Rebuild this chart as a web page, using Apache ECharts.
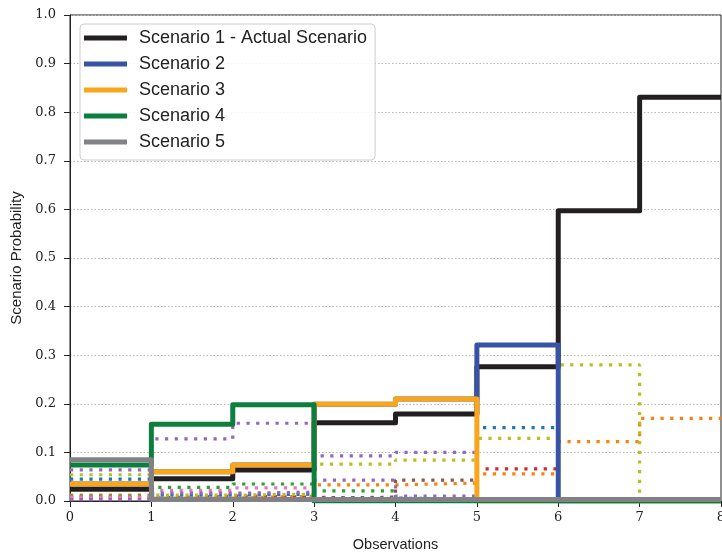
<!DOCTYPE html>
<html>
<head>
<meta charset="utf-8">
<script src="https://cdn.jsdelivr.net/npm/echarts@6/dist/echarts.min.js"></script>
<style>
html,body{margin:0;padding:0;background:#fff;}
#chart{width:722px;height:555px;}
</style>
</head>
<body>
<div id="chart"></div>
<script>
// Observation steps (x positions of the step edges)
const observations = [0, 1, 2, 3, 4, 5, 6, 7, 8];
const yTicks = [0.0, 0.1, 0.2, 0.3, 0.4, 0.5, 0.6, 0.7, 0.8, 0.9, 1.0];

// Solid (highlighted) scenarios: value held over each interval [i, i+1]
const scenario1 = [0.024, 0.046, 0.064, 0.161, 0.179, 0.276, 0.597, 0.831];
const scenario2 = [0.035, 0.060, 0.074, 0.199, 0.210, 0.321, 0.0, 0.0];
const scenario3 = [0.035, 0.060, 0.074, 0.199, 0.210, 0.0, 0.0, 0.0];
const scenario4 = [0.074, 0.158, 0.198, 0.0, 0.0, 0.0, 0.0, 0.0];
const scenario5 = [0.085, 0.003, 0.003, 0.003, 0.003, 0.003, 0.003, 0.003];

// Other scenarios (dotted)
const otherBlue    = [0.045, 0.012, 0.014, 0.006, 0.004, 0.151, 0.0, 0.0];
const otherOrange  = [0.012, 0.006, 0.010, 0.033, 0.037, 0.056, 0.122, 0.170];
const otherGreen   = [0.010, 0.028, 0.035, 0.021, 0.005, 0.0, 0.0, 0.0];
const otherRed     = [0.006, 0.010, 0.008, 0.004, 0.003, 0.066, 0.0, 0.0];
const otherPurple  = [0.064, 0.128, 0.160, 0.093, 0.100, 0.0, 0.0, 0.0];
const otherBrown   = [0.004, 0.004, 0.006, 0.008, 0.043, 0.0, 0.0, 0.0];
const otherPink    = [0.008, 0.022, 0.027, 0.003, 0.002, 0.0, 0.0, 0.0];
const otherPurple2 = [0.003, 0.016, 0.018, 0.043, 0.010, 0.0, 0.0, 0.0];
const otherOlive   = [0.054, 0.012, 0.014, 0.076, 0.084, 0.129, 0.280, 0.0];

const solidNames = ['Scenario 1 - Actual Scenario', 'Scenario 2', 'Scenario 3', 'Scenario 4', 'Scenario 5'];
const solidData = [scenario1, scenario2, scenario3, scenario4, scenario5];
const solidColors = ['#231f20', '#3953a4', '#faa61a', '#0c7f3f', '#808285'];

const dottedData = [otherBlue, otherOrange, otherGreen, otherRed, otherPurple, otherBrown, otherPink, otherPurple2, otherOlive];
const dottedColors = ['#1f77b4', '#ff7f0e', '#2ca02c', '#d62728', '#9467bd', '#8c564b', '#e377c2', '#9467bd', '#bcbd22'];

function stepPoints(vals) {
  const pts = vals.map((v, i) => [observations[i], v]);
  pts.push([observations[observations.length - 1], vals[vals.length - 1]]);
  return pts;
}

const series = [];
dottedData.forEach((vals, k) => {
  series.push({
    name: 'other' + k,
    type: 'line',
    step: 'end',
    symbol: 'none',
    silent: true,
    data: stepPoints(vals),
    lineStyle: { color: dottedColors[k], width: 3.2, type: [3.2, 6.5], cap: 'butt' },
    itemStyle: { color: dottedColors[k] },
    z: 2
  });
});
solidData.forEach((vals, k) => {
  series.push({
    name: solidNames[k],
    type: 'line',
    step: 'end',
    symbol: 'none',
    data: stepPoints(vals),
    lineStyle: { color: solidColors[k], width: 5, join: 'round' },
    itemStyle: { color: solidColors[k] },
    z: 3 + k
  });
});

const chart = echarts.init(document.getElementById('chart'), null, { renderer: 'canvas' });
chart.setOption({
  animation: false,
  backgroundColor: '#fff',
  grid: {
    left: 70, right: 1, top: 15, bottom: 54,
    outerBoundsMode: 'none',
    containLabel: false,
    show: true, borderColor: '#222', borderWidth: 1, backgroundColor: 'transparent'
  },
  legend: {
    data: solidNames,
    orient: 'vertical',
    left: 80, top: 24,
    icon: 'rect',
    itemWidth: 43, itemHeight: 5,
    itemGap: 6,
    padding: [4, 8, 8, 4],
    backgroundColor: 'rgba(255,255,255,0.85)',
    borderColor: '#cccccc', borderWidth: 1, borderRadius: 4,
    textStyle: { fontFamily: 'Liberation Sans', fontSize: 18, color: '#222', lineHeight: 20, padding: [0, 0, 0, 7] }
  },
  xAxis: {
    type: 'value', min: 0, max: 8, interval: 1,
    name: 'Observations', nameLocation: 'middle', nameGap: 36,
    nameTextStyle: { fontFamily: 'Liberation Sans', fontSize: 14.5, color: '#222' },
    axisLine: { show: true, lineStyle: { color: '#222', width: 1 } },
    axisTick: { show: true, length: 6, lineStyle: { color: '#222' } },
    axisLabel: { fontFamily: 'DejaVu Serif', fontSize: 13, color: '#222', margin: 10 },
    splitLine: { show: false }
  },
  yAxis: {
    type: 'value', min: 0, max: 1, interval: 0.1,
    name: 'Scenario Probability', nameLocation: 'middle', nameGap: 42,
    nameTextStyle: { fontFamily: 'Liberation Sans', fontSize: 15, color: '#222' },
    axisLine: { show: true, lineStyle: { color: '#222', width: 1 } },
    axisTick: { show: true, length: 6, lineStyle: { color: '#222' } },
    axisLabel: {
      fontFamily: 'DejaVu Serif', fontSize: 13, color: '#222', margin: 14,
      formatter: function (v) {
        const t = yTicks.find(x => Math.abs(x - v) < 1e-9);
        return (t !== undefined ? t : v).toFixed(1);
      }
    },
    splitLine: { show: true, lineStyle: { color: '#b8b8b8', width: 1, type: [1.5, 2] } }
  },
  series: series
});
</script>
</body>
</html>
